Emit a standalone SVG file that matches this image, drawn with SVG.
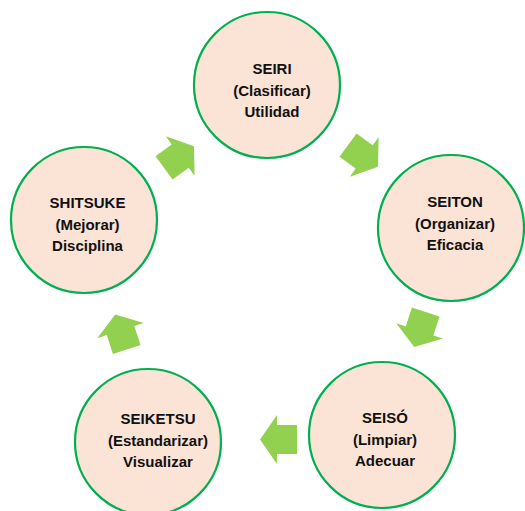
<svg xmlns="http://www.w3.org/2000/svg" xmlns:xlink="http://www.w3.org/1999/xlink" width="525" height="511" viewBox="0 0 525 511">
  <style>
    .node circle { fill: #FBE3D6; stroke: #00B050; stroke-width: 2.2; }
    .node text { font-family: "Liberation Sans", Arial, sans-serif; font-weight: bold; font-size: 15px; fill: #111111; text-anchor: middle; }
    .arrow { fill: #92D050; }
  </style>
  <defs>
    <path id="arr" d="M-18.5,-14.5 H1.5 V-24.5 L18.5,0 L1.5,24.5 V14.5 H-18.5 Z"/>
  </defs>
  <rect width="525" height="511" fill="#FFFFFF"/>
  <g id="connectors">
    <use xlink:href="#arr" href="#arr" class="arrow" transform="translate(179,157) rotate(-36)"/>
    <use xlink:href="#arr" href="#arr" class="arrow" transform="translate(363,156) rotate(36)"/>
    <use xlink:href="#arr" href="#arr" class="arrow" transform="translate(420,329.5) rotate(108)"/>
    <use xlink:href="#arr" href="#arr" class="arrow" transform="translate(278.5,439.5) rotate(180)"/>
    <use xlink:href="#arr" href="#arr" class="arrow" transform="translate(121,332) rotate(-108)"/>
  </g>
  <g id="seiri" class="node">
    <circle cx="267" cy="85" r="73"/>
    <text x="272" y="74">SEIRI</text>
    <text x="272" y="95.5">(Clasificar)</text>
    <text x="272" y="117">Utilidad</text>
  </g>
  <g id="seiton" class="node">
    <circle cx="451" cy="228" r="73"/>
    <text x="455" y="207">SEITON</text>
    <text x="455" y="228.5">(Organizar)</text>
    <text x="455" y="250">Eficacia</text>
  </g>
  <g id="seiso" class="node">
    <circle cx="382" cy="435" r="73"/>
    <text x="385" y="423">SEISÓ</text>
    <text x="385" y="444.5">(Limpiar)</text>
    <text x="385" y="466">Adecuar</text>
  </g>
  <g id="seiketsu" class="node">
    <circle cx="148" cy="442" r="73"/>
    <text x="158" y="424">SEIKETSU</text>
    <text x="158" y="445.5">(Estandarizar)</text>
    <text x="158" y="467">Visualizar</text>
  </g>
  <g id="shitsuke" class="node">
    <circle cx="84" cy="220" r="73"/>
    <text x="87.5" y="208">SHITSUKE</text>
    <text x="87.5" y="229.5">(Mejorar)</text>
    <text x="87.5" y="251">Disciplina</text>
  </g>
</svg>
